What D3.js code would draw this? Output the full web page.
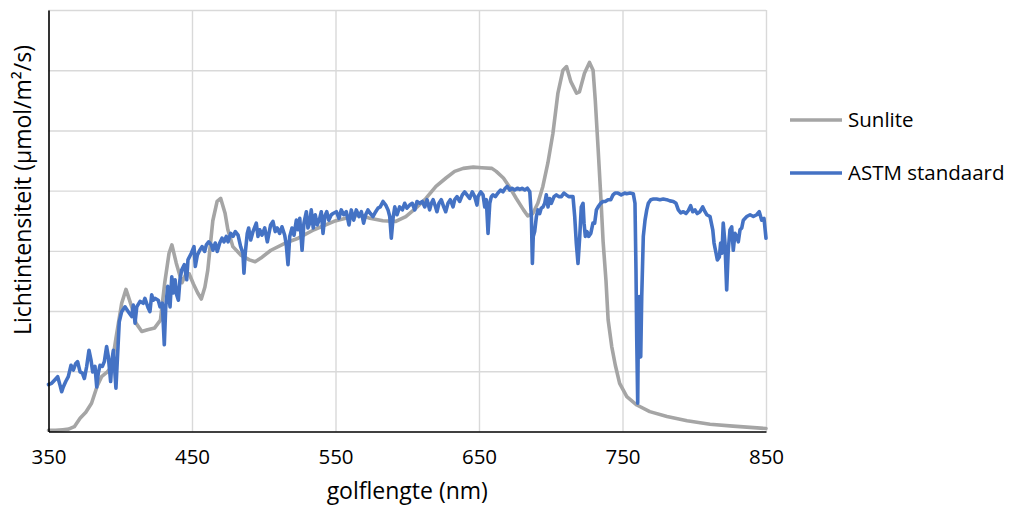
<!DOCTYPE html>
<html>
<head>
<meta charset="utf-8">
<script src="https://cdn.jsdelivr.net/npm/d3@7"></script>
<style>
  html, body { margin: 0; padding: 0; background: #fff; }
  svg { display: block; font-family: "Open Sans", "Liberation Sans", sans-serif; }
</style>
</head>
<body>
<svg id="chart" width="1011" height="506"></svg>
<script>
// ---- data ----
const xTicks = [350, 450, 550, 650, 750, 850];
const yGridValues = [1, 2, 3, 4, 5, 6, 7];
const seriesNames = ["Sunlite", "ASTM standaard"];
const xTitle = "golflengte (nm)";
const yTitle = "Lichtintensiteit (µmol/m²/s)";

const sunliteWl = [350,355,360,364,368,372,376,380,384,387,391,394,397,401,404,408,411,415,419,424,428,431,434,436,439,443,446,448,451,454,456.5,459,461,464.5,467.5,470,473,475,478.5,484,490,494,498,505,515,524,535,549,557,567,574,583,592,599,606,613,620,627,633,639,646,652,659,662,667,671,676,681,684,687.5,691,694.5,698,701.5,705,708.5,711,714,718,720,723.5,727,729.5,731,733,735,736.5,738.5,740,742.5,745,748,753,760,769,781,795,811,827,850];
const sunliteVal = [0.02,0.02,0.03,0.04,0.08,0.22,0.32,0.47,0.76,0.91,0.99,1.08,1.55,2.13,2.36,2.07,1.8,1.66,1.69,1.72,1.85,2.47,2.96,3.1,2.8,2.47,2.63,2.62,2.45,2.3,2.2,2.4,2.68,3.5,3.82,3.87,3.63,3.35,3.07,2.93,2.85,2.82,2.88,3.01,3.13,3.21,3.35,3.49,3.54,3.6,3.54,3.5,3.49,3.57,3.71,3.87,4.07,4.21,4.32,4.37,4.39,4.38,4.37,4.32,4.21,4.07,3.87,3.68,3.58,3.62,3.79,4.07,4.46,4.95,5.62,6.0,6.06,5.81,5.62,5.64,5.95,6.13,6.0,5.51,4.7,3.85,3.15,2.5,1.85,1.41,1.1,0.8,0.58,0.44,0.33,0.25,0.18,0.12,0.09,0.05];

const astmWl = [350,352.2,354.5,356.4,358,359.2,360.3,362,363.8,365.7,367.3,369,370.3,372,373.6,375,376.6,378.2,379.6,380.8,382.4,383.6,384.7,385.9,387.5,388.9,390.5,391.7,393.3,394.3,395.2,397,399.3,401,403.3,405.6,408,409.1,410.3,411.5,413.8,416,417.2,419.5,420.7,421.9,423,424.2,426.5,427.7,429.3,430.7,431.7,433.1,434.7,435.9,437,438.2,439.3,440.5,441.6,442.8,444.6,446.3,
447.2,449.5,451.4,452.3,453.7,455.4,457,458.8,460,461.6,463.5,464.6,466.2,467.6,469.3,470.9,472.3,473.9,475.1,477,478.6,480.2,482.1,483.9,485.5,486.2,487.1,488.5,489.5,490.9,492.5,494.8,496,497.2,498.8,500.7,502.5,503.4,504.8,506.4,508,509.4,511.1,512.7,514.6,515.7,516.9,518.1,519.7,521.1,522.7,523.9,525.1,526.7,528,529.7,530.8,532,533.1,534.5,535.9,537.3,539,540.1,541.3,542.5,543.9,545.3,547.1,
548.3,550.6,552.4,554,555.7,557.5,559.4,561,562.7,564.5,566.4,568,569.6,571,572.6,574.3,576.1,578,579.6,581.2,583.1,585,586.6,587.8,588.9,590.1,591.3,592.9,594.7,596.6,598.2,599.8,601.7,603.5,605.2,606.8,608.7,610.5,612.2,613.8,615.6,616.8,618,619.3,620.7,622.1,623.7,625.4,626.8,628.4,630,631.9,633.1,634.7,636.5,638.4,640,641.6,643.5,645.3,647,648.6,
649.3,651.2,652.8,654,655.1,656.3,657.5,658.6,659.8,661.4,663.2,665.1,666.7,668.3,669.7,671.4,673,674.9,676.7,678.4,680,681.9,683.7,685.4,686.5,687.2,687.8,688.8,690,691.1,692.3,693.4,694.6,695.8,696.9,698.1,699.3,700.4,702.3,703.9,705.6,707.4,709.2,710.8,712.5,714.3,715.5,716.7,717.8,719,720.2,721.3,722.5,723.2,724.1,725.3,726.4,727.9,729.4,730.6,731.8,733,734.8,736.4,738,739.9,741.8,743.4,744.8,746.8,749.1,751.5,
752.9,755.2,757.5,758.7,759.4,759.9,760.6,761,761.7,762.7,763.4,764.5,765.7,766.9,768,769.7,771.5,773.8,776.1,778.4,780.8,783.1,785.4,787.3,788.9,790.6,792.4,794.3,795.9,797.5,798.9,800.5,802.1,804,805.9,807.5,808.7,811,812.9,813.8,815.2,816.1,817.5,818.4,819.3,820.2,821.4,822.6,823.7,824.9,826.1,827.2,828.4,829.6,830.7,831.9,833.1,834.2,836.6,838.9,841.2,843.5,845.3,847,848.6,850];
const astmVal = [0.78,0.80,0.86,0.91,0.77,0.66,0.74,0.83,0.91,1.10,1.02,1.13,1.16,0.99,0.97,0.88,1.08,1.35,1.19,0.99,1.08,0.74,0.97,1.10,1.08,1.16,1.41,1.24,0.83,1.20,1.35,0.72,1.82,1.99,2.07,1.99,1.91,2.10,1.80,2.07,2.16,2.13,2.21,2.05,1.99,2.27,2.18,2.21,2.18,2.07,2.13,1.44,2.07,2.41,2.07,2.57,2.30,2.52,2.27,2.18,2.52,2.68,2.77,2.52,
2.85,2.96,3.07,2.74,2.93,3.01,3.07,2.99,3.10,3.15,3.10,3.01,3.13,2.99,3.13,3.21,3.15,3.24,3.15,3.29,3.24,3.32,3.26,3.07,2.96,2.63,2.96,3.29,3.38,3.18,3.32,3.46,3.24,3.35,3.26,3.38,3.15,3.26,3.43,3.49,3.32,3.38,3.29,3.40,3.26,3.10,2.77,3.24,3.38,3.26,3.51,3.35,3.54,3.01,3.46,3.65,3.38,3.46,3.68,3.38,3.60,3.43,3.54,3.65,3.29,3.57,3.65,3.51,3.60,
3.62,3.65,3.54,3.68,3.60,3.65,3.43,3.68,3.51,3.68,3.57,3.65,3.46,3.60,3.68,3.62,3.57,3.65,3.71,3.73,3.82,3.76,3.68,3.57,3.21,3.54,3.73,3.60,3.73,3.68,3.79,3.71,3.76,3.79,3.68,3.82,3.79,3.82,3.73,3.85,3.68,3.79,3.85,3.76,3.65,3.79,3.85,3.73,3.65,3.79,3.85,3.73,3.85,3.90,3.82,3.93,3.98,3.93,3.87,3.98,3.90,3.76,
3.90,3.98,3.93,3.73,3.85,3.29,3.79,3.90,3.93,3.90,3.96,4.01,3.98,4.04,4.07,4.01,4.04,4.01,4.04,4.02,4.04,4.01,4.04,3.98,3.57,2.79,3.24,3.32,3.57,3.68,3.62,3.71,3.73,3.79,3.93,3.73,3.87,3.79,3.90,3.93,3.90,3.90,3.96,3.93,3.90,3.90,3.90,3.57,3.13,2.79,3.24,3.73,3.79,3.46,3.24,3.32,3.24,3.29,3.46,3.46,3.68,3.73,3.79,3.82,3.82,3.85,3.85,3.93,3.96,3.96,3.93,3.96,
3.95,3.96,3.95,3.79,2.68,1.57,0.47,1.57,2.24,1.24,2.24,3.24,3.51,3.68,3.79,3.85,3.86,3.86,3.85,3.86,3.85,3.83,3.82,3.79,3.68,3.63,3.65,3.62,3.67,3.75,3.65,3.68,3.62,3.65,3.73,3.65,3.60,3.57,3.35,3.13,2.96,2.85,2.90,3.13,2.96,3.46,3.13,2.35,3.01,3.35,3.40,3.01,3.29,3.24,3.15,3.35,3.38,3.51,3.57,3.60,3.57,3.60,3.65,3.51,3.54,3.21];

// ---- layout ----
const svg = d3.select("#chart");
const plotLeft = 48.5, plotRight = 766, plotTop = 10, plotBottom = 431.5;

const x = d3.scaleLinear().domain([350, 850]).range([plotLeft, plotRight]);
const y = d3.scaleLinear().domain([0, 7]).range([plotBottom, plotTop]);

const gridColor = "#d9d9d9";

// horizontal gridlines
svg.append("g")
  .attr("transform", `translate(${plotLeft},0)`)
  .call(d3.axisLeft(y).tickValues(yGridValues).tickSize(-(plotRight - plotLeft)).tickFormat(""))
  .call(g => g.select(".domain").remove())
  .call(g => g.selectAll("line").attr("stroke", gridColor).attr("stroke-width", 1.4));

// vertical gridlines
svg.append("g")
  .attr("transform", `translate(0,${plotBottom})`)
  .call(d3.axisBottom(x).tickValues(xTicks.slice(1)).tickSize(-(plotBottom - plotTop)).tickFormat(""))
  .call(g => g.select(".domain").remove())
  .call(g => g.selectAll("line").attr("stroke", gridColor).attr("stroke-width", 1.4));

// series
const line = d3.line().x(d => x(d[0])).y(d => y(d[1]));
const sunData = sunliteWl.map((w, i) => [w, sunliteVal[i]]);
const astmData = astmWl.map((w, i) => [w, astmVal[i]]);
const colors = ["#a5a5a5", "#4472c4"];
const lineWidth = 3.6;

svg.append("path").datum(sunData)
  .attr("d", line).attr("fill", "none")
  .attr("stroke", colors[0]).attr("stroke-width", lineWidth)
  .attr("stroke-linejoin", "round").attr("stroke-linecap", "round");

svg.append("path").datum(astmData)
  .attr("d", line).attr("fill", "none")
  .attr("stroke", colors[1]).attr("stroke-width", lineWidth)
  .attr("stroke-linejoin", "round").attr("stroke-linecap", "round");

// axes lines
svg.append("g")
  .attr("transform", `translate(${plotLeft},0)`)
  .call(d3.axisLeft(y).tickValues([]).tickSizeOuter(0))
  .call(g => g.select(".domain").attr("stroke", "#000").attr("stroke-width", 1.6));

const xAxis = svg.append("g")
  .attr("transform", `translate(0,${plotBottom})`)
  .call(d3.axisBottom(x).tickValues(xTicks).tickSize(0).tickSizeOuter(0).tickPadding(18).tickFormat(d3.format("d")));
xAxis.select(".domain").attr("stroke", "#000").attr("stroke-width", 1.6);
xAxis.selectAll("text")
  .attr("font-family", "Open Sans, sans-serif")
  .attr("font-size", "20.5px").attr("fill", "#000");

// axis titles
svg.append("text")
  .attr("x", (plotLeft + plotRight) / 2).attr("y", 499)
  .attr("text-anchor", "middle")
  .attr("font-size", "23px").attr("fill", "#000")
  .text(xTitle);

svg.append("text")
  .attr("transform", `translate(31,190) rotate(-90)`)
  .attr("text-anchor", "middle")
  .attr("font-size", "23px").attr("fill", "#000")
  .text(yTitle);

// legend
const legendY = [120, 173];
seriesNames.forEach((name, i) => {
  svg.append("line")
    .attr("x1", 790).attr("x2", 842)
    .attr("y1", legendY[i]).attr("y2", legendY[i])
    .attr("stroke", colors[i]).attr("stroke-width", lineWidth);
  svg.append("text")
    .attr("x", 848).attr("y", legendY[i])
    .attr("dy", "0.35em")
    .attr("font-size", "20.5px").attr("fill", "#000")
    .text(name);
});
</script>
</body>
</html>
